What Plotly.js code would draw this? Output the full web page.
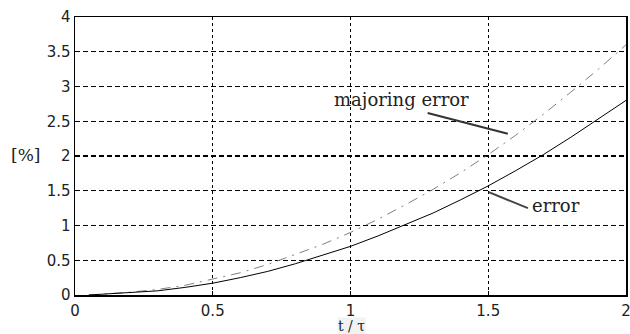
<!DOCTYPE html>
<html><head><meta charset="utf-8">
<script src="https://cdn.plot.ly/plotly-3.0.1.min.js"></script>
<style>html,body{margin:0;padding:0;background:#fff;}#chart{width:630px;height:334px;}</style>
</head><body><div id="chart"></div>
<script>
const t = [0.05, 0.1, 0.2, 0.3, 0.4, 0.5, 0.6, 0.7, 0.8, 0.9, 1.0, 1.1, 1.2, 1.3, 1.4, 1.5, 1.6, 1.7, 1.8, 1.9, 2.0];
const errorVals = [0.0, 0.01, 0.03, 0.06, 0.11, 0.17, 0.25, 0.34, 0.45, 0.57, 0.70, 0.85, 1.01, 1.18, 1.37, 1.57, 1.79, 2.02, 2.27, 2.53, 2.80];
const majoringVals = [0.0, 0.01, 0.04, 0.08, 0.14, 0.23, 0.32, 0.44, 0.58, 0.73, 0.90, 1.09, 1.30, 1.52, 1.76, 2.02, 2.30, 2.60, 2.92, 3.25, 3.60];
const xTicks = [0, 0.5, 1, 1.5, 2];
const xTickText = ["0", "0.5", "1", "1.5", "2"];
const yTicks = [0, 0.5, 1, 1.5, 2, 2.5, 3, 3.5, 4];
const yTickText = ["0", "0.5", "1", "1.5", "2", "2.5", "3", "3.5", "4"];
const labels = {majoring: "majoring error", error: "error", xTitle: "t / τ", yTitle: "[%]"};

const traces = [
  {x: t, y: majoringVals, mode: "lines", line: {color: "#808080", width: 1, dash: "10px,6px,2px,6px"}, hoverinfo: "skip"},
  {x: t, y: errorVals, mode: "lines", line: {color: "#000", width: 1}, hoverinfo: "skip"}
];

const serif = "DejaVu Serif";
const layout = {
  width: 630, height: 334,
  margin: {l: 75, r: 4, t: 17, b: 39},
  paper_bgcolor: "#fff", plot_bgcolor: "#fff",
  showlegend: false,
  font: {family: "DejaVu Sans", size: 15, color: "#222"},
  xaxis: {range: [0, 2], tickvals: xTicks, ticktext: xTickText, showgrid: true, gridcolor: "#000", gridwidth: 1.3, griddash: "3px,3px",
    showline: true, linecolor: "#000", linewidth: 1.5, mirror: true, zeroline: false, ticks: "inside", ticklen: 4, tickcolor: "#000",
    ticklabeloverflow: "allow", ticklabelstandoff: 1, fixedrange: true},
  yaxis: {range: [0, 4], tickvals: yTicks, ticktext: yTickText, showgrid: true, gridcolor: "#000", gridwidth: 1.3, griddash: "5px,3px",
    showline: true, linecolor: "#000", linewidth: 1.5, mirror: true, zeroline: false, ticks: "inside", ticklen: 4, tickcolor: "#000", fixedrange: true},
  shapes: [
    {type: "line", xref: "x", yref: "y", x0: 1.28, y0: 2.62, x1: 1.571, y1: 2.32, line: {color: "#333", width: 2}},
    {type: "line", xref: "x", yref: "y", x0: 1.502, y0: 1.48, x1: 1.644, y1: 1.25, line: {color: "#444", width: 2}}
  ],
  annotations: [
    {text: labels.majoring, xref: "x", yref: "y", x: 1.186, y: 2.81, showarrow: false, font: {family: serif, size: 18, color: "#222"}},
    {text: labels.error, xref: "x", yref: "y", x: 1.745, y: 1.29, showarrow: false, font: {family: serif, size: 18, color: "#222"}},
    {text: labels.yTitle, xref: "paper", yref: "paper", x: -0.09, y: 0.503, xanchor: "center", showarrow: false, font: {family: serif, size: 17, color: "#222"}},
    {text: labels.xTitle, xref: "paper", yref: "paper", x: 0.502, y: -0.078, yanchor: "top", showarrow: false, bgcolor: "#f2f2f2", borderpad: 0, font: {family: serif, size: 14, color: "#222"}}
  ]
};
Plotly.newPlot("chart", traces, layout, {staticPlot: true, displayModeBar: false});
</script></body></html>
